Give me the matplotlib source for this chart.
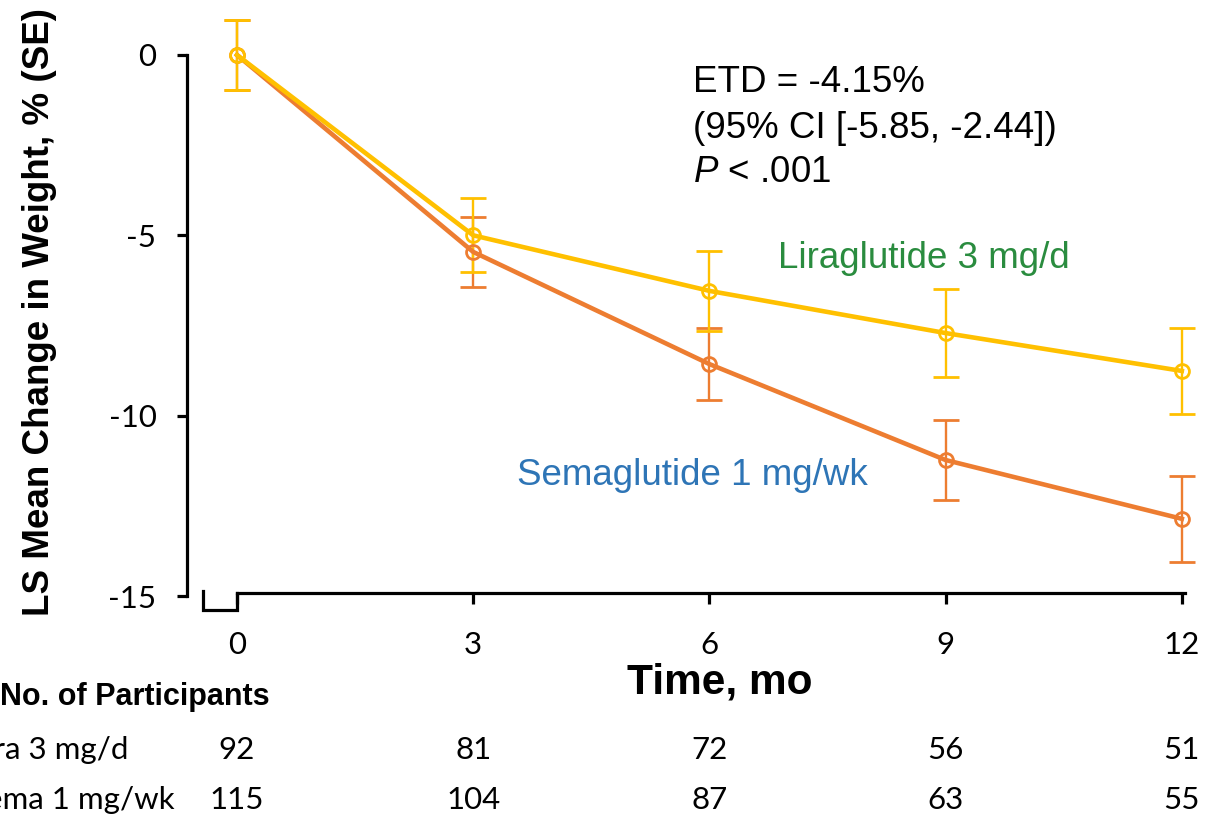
import matplotlib
matplotlib.use("Agg")
import matplotlib.pyplot as plt
from matplotlib.transforms import blended_transform_factory

# data
months = [0, 3, 6, 9, 12]
lira_mean = [0.0, -5.0, -6.54, -7.71, -8.76]
lira_se = [0.97, 1.03, 1.10, 1.22, 1.19]
sema_mean = [0.0, -5.46, -8.57, -11.23, -12.86]
sema_se = [0.97, 0.96, 1.00, 1.11, 1.19]
lira_n = [92, 81, 72, 56, 51]
sema_n = [115, 104, 87, 63, 55]
yticks = [0, -5, -10, -15]

YELLOW = "#FFC000"
ORANGE = "#ED7D31"
GREEN = "#2A8C3F"
BLUE = "#2E75B6"

plt.rcParams["axes.unicode_minus"] = False
plt.rcParams["mathtext.fontset"] = "custom"
plt.rcParams["mathtext.it"] = "Liberation Sans:italic"
plt.rcParams["mathtext.rm"] = "Liberation Sans"

W, H = 1230, 815
fig = plt.figure(figsize=(W / 100, H / 100), dpi=100)


def fx(px):
    return px / W


def fy(py):
    return 1 - py / H


ax = fig.add_axes([fx(187), fy(596), fx(1185 - 187), (596 - 55) / H])
ax.set_xlim(-0.635, 12.04)
ax.set_ylim(-15, 0)

for mean, se, col in [(sema_mean, sema_se, ORANGE), (lira_mean, lira_se, YELLOW)]:
    ax.errorbar(months, mean, yerr=se, color=col, lw=3.3, marker="o", ms=10,
                mfc="none", mec=col, mew=2, elinewidth=1.7, capsize=9.5,
                capthick=2, clip_on=False, zorder=3)

for s in ["top", "right"]:
    ax.spines[s].set_visible(False)
ax.spines["left"].set_linewidth(2.3)
ax.spines["bottom"].set_linewidth(2.3)
ax.spines["bottom"].set_bounds(0, 12.04)
ax.spines["bottom"].set_position(("outward", -2))

ax.set_yticks(yticks)
ax.set_xticks(months)
ax.tick_params(axis="y", length=7, width=2.3, pad=15, labelsize=22.5)
ax.tick_params(axis="x", length=8, width=2.3, pad=19, labelsize=22.5)
for lab in ax.get_xticklabels() + ax.get_yticklabels():
    lab.set_fontfamily("Lato")

# bracket at the axis corner
ax.plot([0, 0, -0.43, -0.43], [-14.93, -15.39, -15.39, -14.86], color="k",
        lw=2.3, clip_on=False, solid_joinstyle="miter")

fig.text(fx(720), fy(683), "Time, mo", ha="center", va="center",
         fontsize=30.5, fontweight="bold", family="Liberation Sans")
fig.text(fx(40), fy(312), "LS Mean Change in Weight, % (SE)", ha="center",
         va="center", rotation=90, fontsize=26.5, fontweight="bold",
         family="Liberation Sans")

txt_kw = dict(fontsize=26.5, family="Liberation Sans", ha="left", va="center")
fig.text(fx(693), fy(83), "ETD = -4.15%", **txt_kw)
fig.text(fx(693), fy(128), "(95% CI [-5.85, -2.44])", **txt_kw)
fig.text(fx(693), fy(172), r"$\it{P}$ < .001", **txt_kw)
fig.text(fx(778), fy(258), "Liraglutide 3 mg/d", color=GREEN, **txt_kw)
fig.text(fx(517), fy(476), "Semaglutide 1 mg/wk", color=BLUE, **txt_kw)

# participants table
fig.text(fx(270), fy(697), "No. of Participants", ha="right", va="center",
         fontsize=22, fontweight="bold", family="Liberation Sans")
fig.text(fx(128), fy(750), "Lira 3 mg/d", ha="right", va="center",
         fontsize=22.5, family="Lato")
fig.text(fx(175), fy(800), "Sema 1 mg/wk", ha="right", va="center",
         fontsize=22.5, family="Lato")
tr = blended_transform_factory(ax.transData, fig.transFigure)
for m, a, b in zip(months, lira_n, sema_n):
    ax.text(m, fy(750), str(a), transform=tr, ha="center", va="center",
            fontsize=22.5, family="Lato")
    ax.text(m, fy(800), str(b), transform=tr, ha="center", va="center",
            fontsize=22.5, family="Lato")

fig.savefig("out.png", dpi=100)
